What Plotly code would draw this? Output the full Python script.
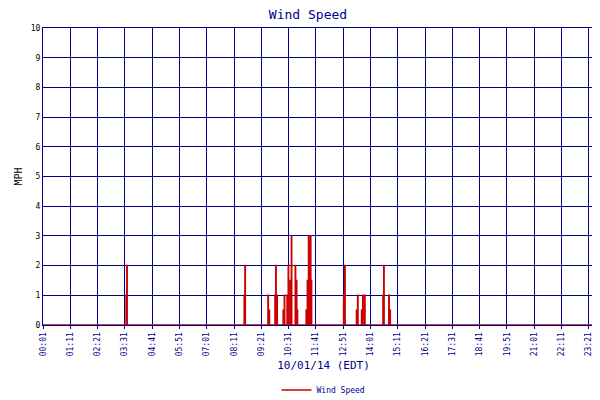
import numpy as np
import plotly.graph_objects as go

# wind speed readings (minute of day -> mph); all other minutes are 0
event_minutes = [214, 216, 517, 519, 578, 581, 596, 598, 601, 617, 620, 627, 630,
                 635, 638, 648, 651, 653, 676, 679, 682, 684, 687, 689,
                 772, 775, 805, 808, 818, 821, 826, 873, 875, 888, 891]
event_speeds = [1, 2, 1, 2, 1, 0.5, 1, 2, 1, 0.5, 1, 1, 2,
                1.5, 3, 2, 1.5, 0.5, 0.5, 1.5, 3, 2, 3, 1.5,
                1, 2, 0.5, 1, 0.5, 1, 1, 1, 2, 1, 0.5]

tick_labels = ["00:01", "01:11", "02:21", "03:31", "04:41", "05:51", "07:01",
               "08:11", "09:21", "10:31", "11:41", "12:51", "14:01", "15:11",
               "16:21", "17:31", "18:41", "19:51", "21:01", "22:11", "23:21", "23:49"]
tick_minutes = [1 + 70 * i for i in range(21)] + [1440]

minutes = np.arange(1, 1441)
speeds = np.zeros(len(minutes))
for m, s in zip(event_minutes, event_speeds):
    speeds[m - 1] = s

font = "DejaVu Sans Mono"
navy = "#00008b"

fig = go.Figure()
fig.add_trace(go.Scatter(
    x=minutes, y=speeds, mode="lines", name="Wind Speed",
    line=dict(color="#cc0000", width=1.5, shape="hv"),
))

fig.update_layout(
    width=600, height=400,
    margin=dict(l=35, r=4, t=20, b=63),
    paper_bgcolor="white", plot_bgcolor="white",
    font=dict(family=font, size=9, color=navy),
    title=dict(text="Wind Speed", x=0.5, y=0.995, xanchor="center", yanchor="top",
               font=dict(family=font, size=13, color=navy)),
    showlegend=True,
    legend=dict(orientation="h", x=0.5, y=-0.17, xanchor="center", yanchor="top",
                font=dict(family=font, size=8, color=navy)),
    xaxis=dict(
        range=[1, 1440], tickvals=tick_minutes, ticktext=tick_labels,
        tickangle=-90, showgrid=True, gridcolor=navy, gridwidth=1,
        showline=True, linecolor=navy, mirror=True, ticks="outside",
        tickcolor=navy, ticklen=3, zeroline=False, automargin=False,
        title=dict(text="10/01/14 (EDT)", font=dict(family=font, size=11, color=navy),
                   standoff=6),
        tickfont=dict(family=font, size=8, color=navy),
    ),
    yaxis=dict(
        range=[0, 10], dtick=1, showgrid=True, gridcolor=navy, gridwidth=1,
        showline=True, linecolor=navy, mirror=True, zeroline=False, automargin=False,
        ticks="", title=dict(text="MPH", font=dict(family=font, size=10, color="black"),
                             standoff=6),
        tickfont=dict(family=font, size=8, color="black"),
    ),
)

fig.write_html("out.html")
